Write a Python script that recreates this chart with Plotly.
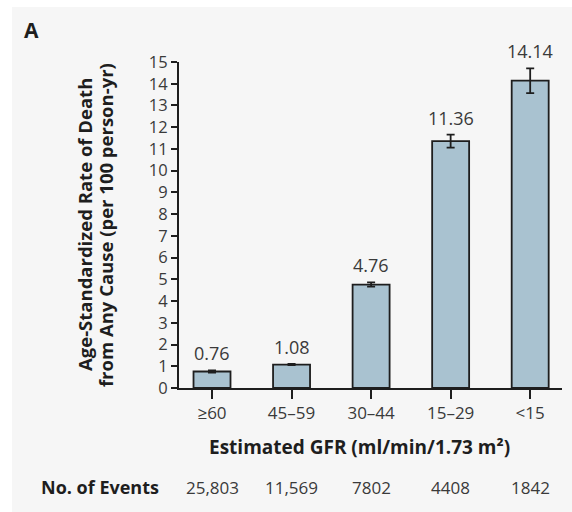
import plotly.graph_objects as go

# Age-standardized death rates by estimated GFR category
categories = ["≥60", "45–59", "30–44", "15–29", "<15"]
rates = [0.76, 1.08, 4.76, 11.36, 14.14]
ci_half = [0.05, 0.03, 0.10, 0.30, 0.57]
events = ["25,803", "11,569", "7802", "4408", "1842"]
y_ticks = list(range(0, 16))

FONT = "Open Sans"
TXT = "#3a3a3a"
DARK = "#1e1e1e"
BG = "#f6f6f6"

xs = list(range(len(categories)))

fig = go.Figure()
fig.add_trace(go.Bar(
    x=xs, y=rates, width=0.465,
    marker=dict(color="#a9c2d0", line=dict(color=DARK, width=1.8)),
    error_y=dict(type="data", array=ci_half, visible=True,
                 color=DARK, thickness=1.8, width=4),
    hoverinfo="skip",
))

annotations = []
# value labels above each error bar
for x, r, e in zip(xs, rates, ci_half):
    annotations.append(dict(
        x=x, y=r + e, xref="x", yref="y", text=f"{r:.2f}",
        showarrow=False, yanchor="bottom", yshift=3,
        font=dict(family=FONT, size=18, color=TXT)))

# number of events row
for x, n in zip(xs, events):
    annotations.append(dict(
        x=x, y=-0.304, xref="x", yref="paper", text=n,
        showarrow=False, yanchor="middle",
        font=dict(family=FONT, size=17, color=TXT)))

annotations += [
    dict(text="<b>No. of Events</b>", x=-0.047, y=-0.304,
         xref="paper", yref="paper", showarrow=False,
         xanchor="right", yanchor="middle",
         font=dict(family=FONT, size=18, color=DARK)),
    dict(text="<b>A</b>", x=-0.41, y=1.098, xref="paper", yref="paper",
         showarrow=False, xanchor="left", yanchor="middle",
         font=dict(family=FONT, size=21, color=DARK)),
    dict(text="<b>Estimated GFR (ml/min/1.73 m²)</b>", x=0.47, y=-0.181,
         xref="paper", yref="paper", showarrow=False,
         xanchor="center", yanchor="middle",
         font=dict(family=FONT, size=19, color=DARK)),
    dict(text="<b>Age-Standardized Rate of Death</b>",
         x=-0.248, y=0.5, xref="paper", yref="paper", textangle=-90,
         showarrow=False, xanchor="center", yanchor="middle",
         font=dict(family=FONT, size=18.5, color=DARK)),
    dict(text="<b>from Any Cause (per 100 person-yr)</b>",
         x=-0.193, y=0.5, xref="paper", yref="paper", textangle=-90,
         showarrow=False, xanchor="center", yanchor="middle",
         font=dict(family=FONT, size=18.5, color=DARK)),
]

fig.update_layout(
    width=572, height=512,
    margin=dict(l=179, r=10, t=62, b=124),
    paper_bgcolor=BG, plot_bgcolor=BG,
    showlegend=False,
    annotations=annotations,
    font=dict(family=FONT, color=TXT),
    shapes=[
        # white frame strips along the left and top edges
        dict(type="rect", xref="paper", yref="paper", x0=-0.47, x1=-0.436,
             y0=-0.38, y1=1.2, fillcolor="white", line=dict(width=0), layer="below"),
        dict(type="rect", xref="paper", yref="paper", x0=-0.47, x1=1.03,
             y0=1.1687, y1=1.2, fillcolor="white", line=dict(width=0), layer="below"),
    ],
)
fig.update_xaxes(
    range=[-0.415, 4.40], tickvals=xs, ticktext=categories,
    showline=True, linecolor=DARK, linewidth=2,
    ticks="outside", ticklen=9, tickwidth=2, tickcolor=DARK,
    showgrid=False, zeroline=False,
    tickfont=dict(family=FONT, size=17, color=TXT),
)
fig.update_yaxes(
    range=[0, 15], tickvals=y_ticks,
    showline=True, linecolor=DARK, linewidth=2,
    ticks="outside", ticklen=6, tickwidth=2, tickcolor=DARK,
    showgrid=False, zeroline=False,
    tickfont=dict(family=FONT, size=16.5, color=TXT),
)

fig.write_html("out.html")
